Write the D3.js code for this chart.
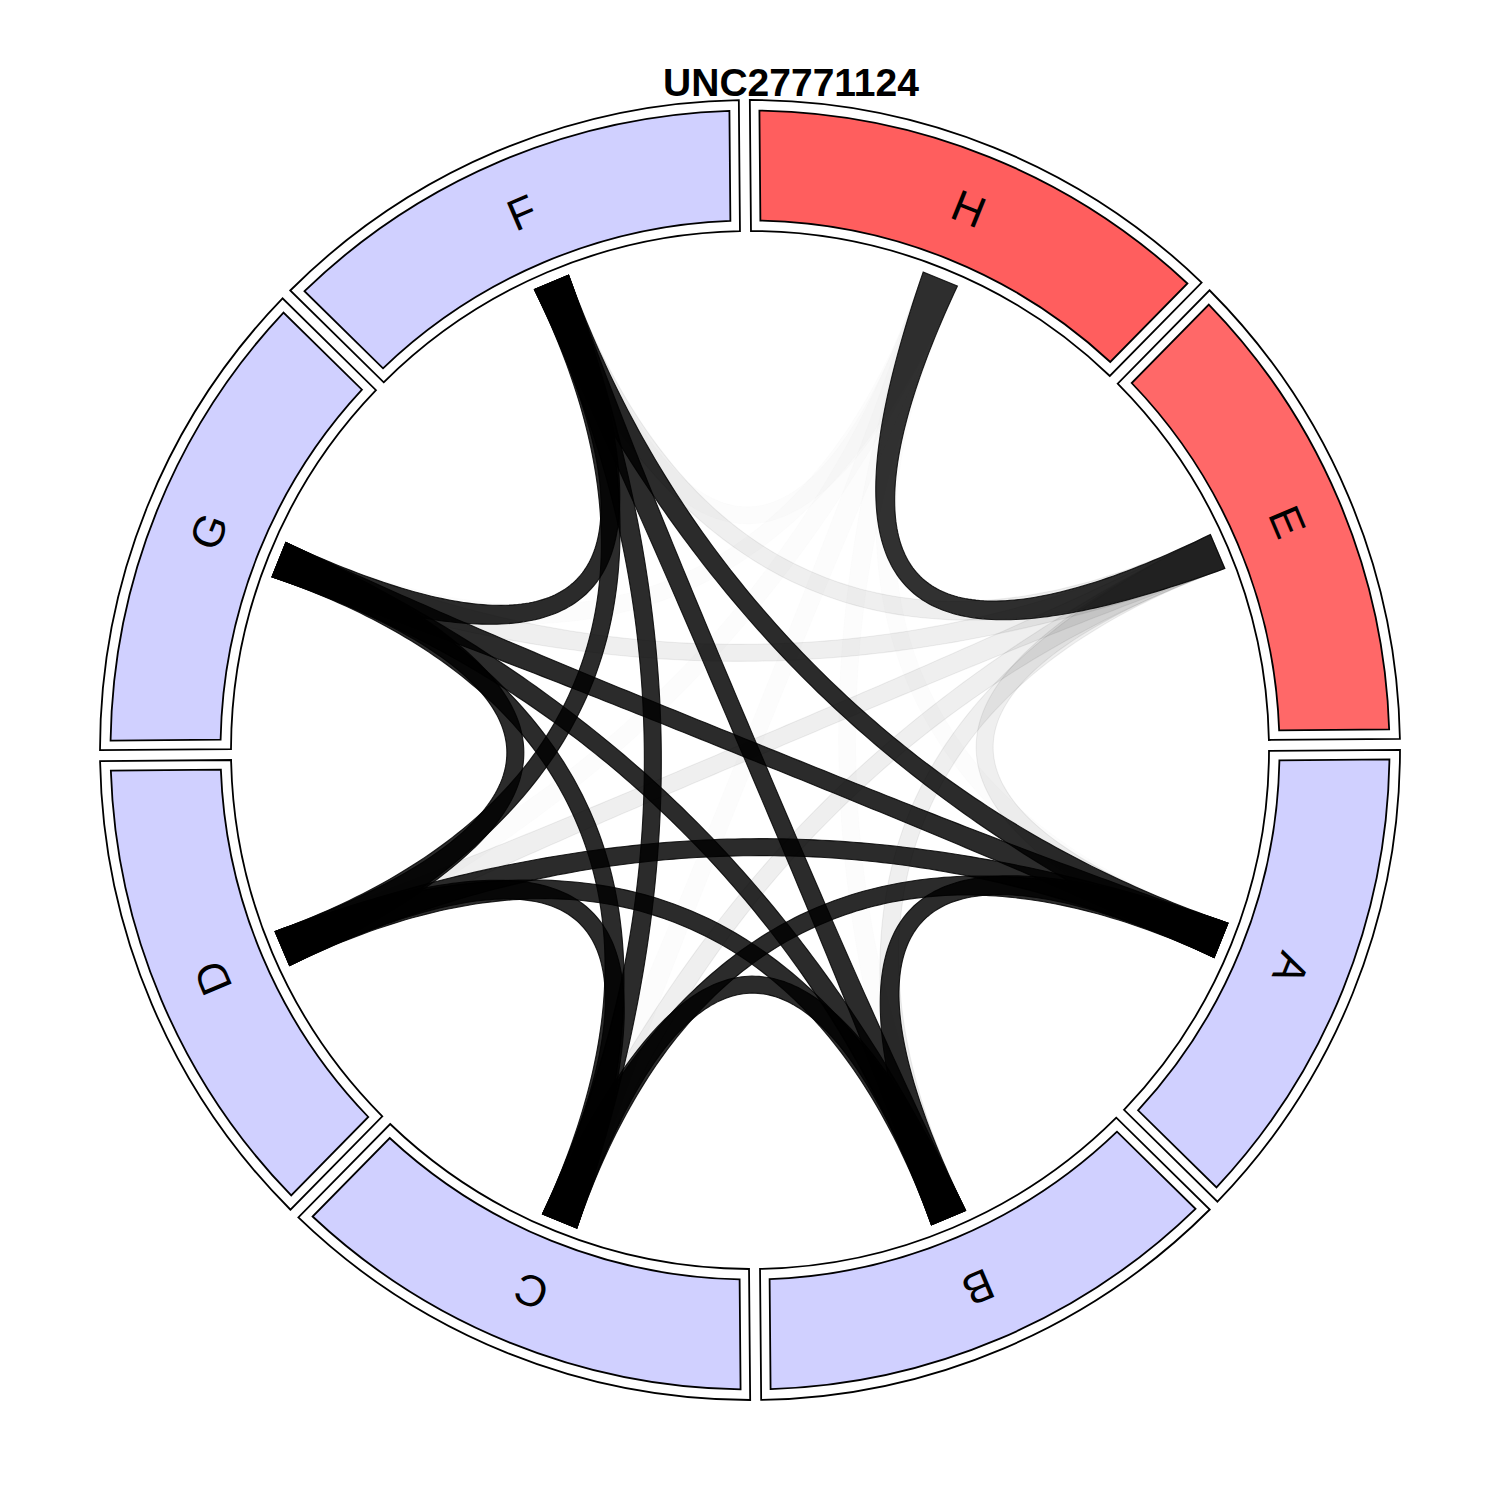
<!DOCTYPE html>
<html>
<head>
<meta charset="utf-8">
<script src="https://cdn.jsdelivr.net/npm/d3@7"></script>
<style>
  html, body { margin: 0; padding: 0; background: #fff; }
  svg { display: block; }
</style>
</head>
<body>
<svg id="chart" width="1500" height="1500"></svg>
<script>
// ---------------- data ----------------
const title = "UNC27771124";
const sectors = ["H", "E", "A", "B", "C", "D", "G", "F"];      // clockwise from top
const allele  = ["H", "E", "o", "o", "o", "o", "o", "o"];      // allele group of each sector
const links = [
  // strong links among the blue group
  ["A", "B", 1], ["A", "C", 1], ["A", "D", 1], ["A", "G", 1], ["A", "F", 1],
  ["B", "C", 1], ["B", "D", 1], ["B", "G", 1], ["B", "F", 1],
  ["C", "D", 1], ["C", "G", 1], ["C", "F", 1],
  ["D", "G", 1], ["D", "F", 1],
  ["G", "F", 1],
  // red pair
  ["H", "E", 0.975],
  // weak links from E
  ["E", "A", 0.075], ["E", "B", 0.075], ["E", "C", 0.075],
  ["E", "D", 0.075], ["E", "G", 0.075], ["E", "F", 0.075],
  // very weak links from H
  ["H", "A", 0.015], ["H", "B", 0.015], ["H", "C", 0.015],
  ["H", "D", 0.015], ["H", "G", 0.015], ["H", "F", 0.015]
];

// ---------------- layout ----------------
const cx = 750, cy = 750;
const rot = -0.5;                      // degrees
const svg = d3.select("#chart");

const angle = d3.scaleBand().domain(sectors).range([rot, 360 + rot]).padding(0);
const nodeAngle = s => angle(s) + angle.bandwidth() / 2;
const color = d3.scaleOrdinal().domain(["H", "E", "o"]).range(["#FF5E5E", "#FF6868", "#D0D0FF"]);
const opacity = d3.scaleLinear().domain([0, 1]).range([0, 0.83]);

const rad = a => a * Math.PI / 180;
const polar = (r, a) => [cx + r * Math.sin(rad(a)), cy - r * Math.cos(rad(a))];

function boxPath(r0, r1, a0, a1, d) {
  const da = r => Math.asin(d / r) * 180 / Math.PI;
  const p1 = polar(r1, a0 + da(r1)), p2 = polar(r1, a1 - da(r1));
  const p3 = polar(r0, a1 - da(r0)), p4 = polar(r0, a0 + da(r0));
  return `M${p1}A${r1},${r1} 0 0 1 ${p2}L${p3}A${r0},${r0} 0 0 0 ${p4}Z`;
}

// sectors
const g = svg.append("g");
sectors.forEach((s, i) => {
  const a0 = angle(s), a1 = a0 + angle.bandwidth();
  g.append("path").attr("d", boxPath(519, 650, a0, a1, 5.5))
    .attr("fill", "#fff").attr("stroke", "#000").attr("stroke-width", 1.8);
  g.append("path").attr("d", boxPath(529.5, 639.5, a0, a1, 15))
    .attr("fill", color(allele[i])).attr("stroke", "#000").attr("stroke-width", 1.8);
  const na = nodeAngle(s);
  g.append("text")
    .attr("transform", `translate(${cx},${cy}) rotate(${na}) translate(0,-584)`)
    .attr("text-anchor", "middle").attr("dominant-baseline", "central")
    .attr("font-family", "'Liberation Sans', Arial, Helvetica, sans-serif")
    .attr("font-size", 44).attr("fill", "#000")
    .text(s);
});

// ribbons
const R = 508, W = 37, Wmid = 17, P = 2.7, N = 120;
const line = d3.line();
function ribbon(sa, ta) {
  const p0 = [R * Math.sin(rad(sa)), -R * Math.cos(rad(sa))];
  const p2 = [R * Math.sin(rad(ta)), -R * Math.cos(rad(ta))];
  const left = [], right = [];
  for (let i = 0; i <= N; i++) {
    const t = i / N, u = 1 - t;
    const x = u * u * p0[0] + t * t * p2[0];
    const y = u * u * p0[1] + t * t * p2[1];
    const dx = -2 * u * p0[0] + 2 * t * p2[0];
    const dy = -2 * u * p0[1] + 2 * t * p2[1];
    const L = Math.hypot(dx, dy);
    const nx = -dy / L, ny = dx / L;
    const w = (Wmid + (W - Wmid) * Math.pow(Math.abs(1 - 2 * t), P)) / 2;
    left.push([cx + x + nx * w, cy + y + ny * w]);
    right.push([cx + x - nx * w, cy + y - ny * w]);
  }
  return line(left.concat(right.reverse())) + "Z";
}

const sorted = links.slice().sort((a, b) => a[2] - b[2]);
const lg = svg.append("g");
sorted.forEach(([s, t, v]) => {
  lg.append("path")
    .attr("d", ribbon(nodeAngle(s), nodeAngle(t)))
    .attr("fill", "#000").attr("fill-opacity", opacity(v))
    .attr("stroke", "#000").attr("stroke-opacity", opacity(v))
    .attr("stroke-width", 1.1);
});

// title
svg.append("text")
  .attr("x", 791).attr("y", 96)
  .attr("text-anchor", "middle")
  .attr("font-family", "'Liberation Sans', Arial, Helvetica, sans-serif")
  .attr("font-weight", "bold").attr("font-size", 39)
  .text(title);
</script>
</body>
</html>
